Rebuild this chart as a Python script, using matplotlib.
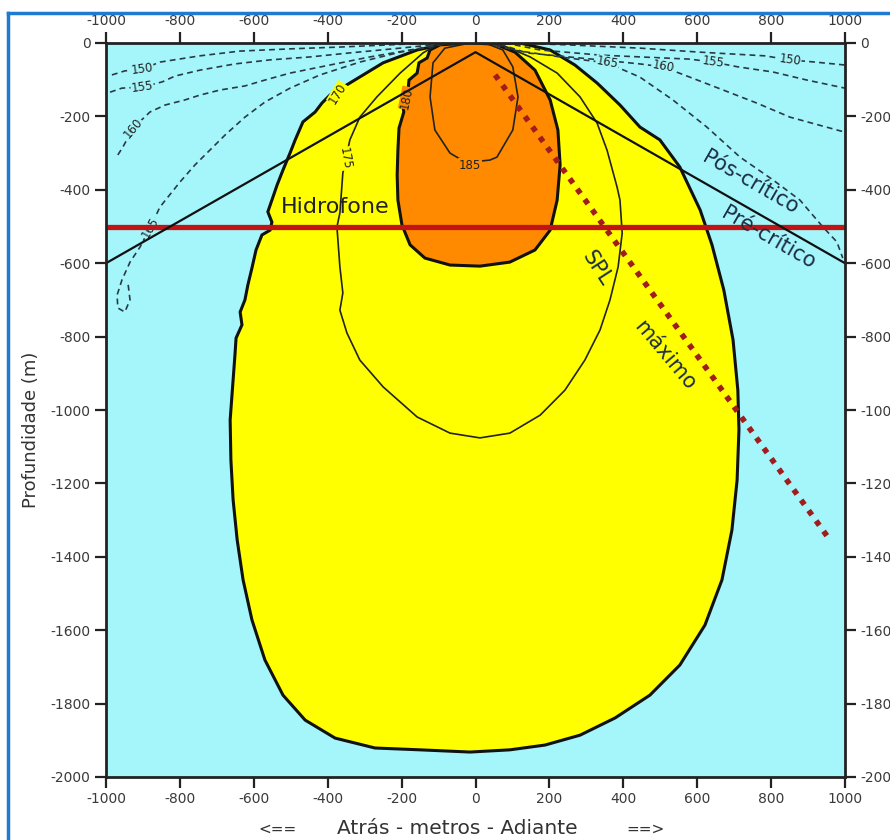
import matplotlib
matplotlib.use('Agg')
import matplotlib.pyplot as plt
from matplotlib.lines import Line2D

plt.rcParams['font.family'] = ['DejaVu Sans']
plt.rcParams['axes.unicode_minus'] = False

# contour 170 dB (yellow area), metres
yellow_x = [-69, -158, -250, -340, -394, -415, -434, -467, -488, -502, -521, -537, -551, -562,
            -551, -556, -578, -594, -605, -616, -624, -637, -632, -648, -651, -656, -664, -662,
            -656, -645, -629, -605, -570, -521, -461, -380, -272, -150, -15, 93, 188, 283, 378,
            472, 553, 621, 667, 694, 708, 713, 710, 697, 672, 640, 608, 553, 499, 445, 391, 329,
            269, 202, 120]
yellow_y = [0, -19, -54, -109, -142, -163, -188, -215, -264, -300, -346, -387, -428, -460,
            -488, -510, -523, -564, -613, -659, -700, -733, -768, -804, -850, -918, -1027, -1136,
            -1245, -1354, -1463, -1572, -1681, -1777, -1845, -1894, -1921, -1926, -1932, -1926,
            -1913, -1886, -1839, -1777, -1695, -1586, -1463, -1327, -1191, -1054, -946, -809,
            -673, -550, -455, -338, -264, -229, -169, -109, -60, -19, 0]

# contour 180 dB (orange area)
orange_x = [-15, -96, -123, -131, -153, -158, -180, -183, -199, -194, -207, -210, -212, -210,
            -199, -177, -137, -69, 12, 93, 161, 202, 221, 229, 223, 202, 161, 107, 53]
orange_y = [0, -5, -19, -41, -54, -82, -101, -134, -155, -188, -232, -292, -360, -428,
            -496, -550, -586, -605, -608, -597, -564, -510, -428, -332, -237, -155, -74, -25, -3]

# contour 185 dB
c185_x = [-15, -83, -115, -123, -110, -69, -37, 0, 39, 58, 101, 115, 101, 74, 26]
c185_y = [0, -14, -54, -147, -237, -300, -319, -323, -319, -311, -237, -147, -65, -19, 0]

# contour 175 dB
c175_x = [-96, -142, -204, -267, -313, -340, -359, -367, -375, -367, -359, -367, -348, -313,
          -250, -158, -69, 12, 93, 175, 242, 296, 337, 364, 386, 397, 391, 383, 356, 329, 283,
          221, 148, 85, 39]
c175_y = [0, -27, -82, -147, -202, -264, -354, -463, -501, -610, -681, -728, -790, -864,
          -937, -1019, -1063, -1076, -1063, -1014, -946, -864, -782, -700, -610, -518, -428,
          -392, -292, -218, -147, -82, -38, -11, 0]

# dashed contours in the low level zone (left and right of the source)
l150_x = [-984, -949, -902, -854, -746, -637, -502, -367, -231, -123]
l150_y = [-87, -76, -71, -52, -35, -22, -16, -11, -5, 0]
l155_x = [-989, -957, -902, -848, -813, -746, -651, -556, -448, -340, -204, -96]
l155_y = [-134, -123, -120, -106, -90, -74, -57, -46, -38, -27, -14, -3]
l160_x = [-968, -954, -927, -881, -840, -786, -746, -691, -624, -570, -502, -394, -286, -177, -83]
l160_y = [-305, -283, -232, -188, -169, -155, -142, -128, -117, -101, -82, -60, -38, -19, -3]
l165_x = [-940, -935, -949, -968, -970, -957, -935, -908, -881, -854, -800, -759, -719, -678,
          -624, -570, -502, -421, -313, -204, -96]
l165_y = [-659, -700, -733, -722, -687, -646, -597, -556, -504, -447, -379, -332, -292, -251,
          -202, -161, -123, -87, -52, -25, -5]
r150_x = [93, 248, 445, 608, 783, 851, 919, 1000]
r150_y = [0, -5, -14, -25, -35, -46, -52, -60]
r155_x = [80, 175, 337, 580, 643, 710, 805, 897, 1000]
r155_y = [0, -19, -33, -44, -52, -65, -79, -101, -123]
r160_x = [66, 139, 337, 445, 507, 580, 670, 762, 851, 1000]
r160_y = [-3, -27, -46, -57, -65, -93, -128, -164, -202, -243]
r165_x = [53, 101, 229, 291, 356, 445, 534, 626, 716, 805, 878, 940, 978, 994]
r165_y = [-5, -19, -38, -46, -54, -93, -155, -229, -311, -373, -428, -501, -542, -586]

# rays, hydrophone depth and max SPL direction
ray_x = [-1000, 0, 1000]
ray_y = [-600, -25, -600]
hydro_depth = -500
spl_x = [53, 959]
spl_y = [-87, -1354]

x_ticks = list(range(-1000, 1001, 200))
y_ticks = list(range(-2000, 1, 200))

cyan = '#a4f6fa'
yellow = '#ffff00'
orange = '#ff8a00'

fig = plt.figure(figsize=(8.9, 8.4), dpi=100)
ax = fig.add_axes([106 / 890, 63 / 840, 739 / 890, 734 / 840])
ax.set_facecolor(cyan)

ax.fill(yellow_x, yellow_y, facecolor=yellow, edgecolor='#111111', lw=2.2, zorder=1)
ax.fill(orange_x, orange_y, facecolor=orange, edgecolor='#111111', lw=2.2, zorder=2)
ax.plot(c175_x, c175_y, color='#222222', lw=1.2, zorder=3)
ax.plot(c185_x, c185_y, color='#222222', lw=1.2, zorder=3)

for xs, ys in [(l150_x, l150_y), (l155_x, l155_y), (l160_x, l160_y), (l165_x, l165_y),
               (r150_x, r150_y), (r155_x, r155_y), (r160_x, r160_y), (r165_x, r165_y)]:
    ax.plot(xs, ys, color='#2a3a44', lw=1.2, linestyle=(0, (3.5, 2.5)), zorder=3)

lab = dict(fontsize=8.5, color='#222222', ha='center', va='center', zorder=4)
for x, y, s, r in [(-902, -71, '150', 8), (-902, -120, '155', 8), (-927, -232, '160', 50),
                   (-881, -504, '165', 60), (851, -46, '150', -8), (643, -52, '155', -8),
                   (507, -65, '160', -10), (356, -54, '165', -10)]:
    ax.text(x, y, s, rotation=r, bbox=dict(facecolor=cyan, edgecolor='none', pad=0.3), **lab)
ax.text(-15, -333, '185', bbox=dict(facecolor=orange, edgecolor='none', pad=0.3), **lab)
ax.text(-353, -315, '175', rotation=-80, bbox=dict(facecolor=yellow, edgecolor='none', pad=0.3), **lab)
ax.text(-372, -138, '170', rotation=58, bbox=dict(facecolor=yellow, edgecolor='none', pad=0.3), **lab)
ax.text(-186, -150, '180', rotation=78, bbox=dict(facecolor=orange, edgecolor='none', pad=0.2), **lab)

ax.axhline(hydro_depth, color='#c21414', lw=3.8, zorder=5)
ax.plot(ray_x, ray_y, color='#111111', lw=1.6, zorder=6)
ax.plot(spl_x, spl_y, color='#a11c1c', lw=4, linestyle=(0, (1, 1.3)),
        dash_capstyle='butt', zorder=7)

ax.text(-380, -447, 'Hidrofone', fontsize=16, color='#222222', ha='center', va='center', zorder=8)
txt = dict(fontsize=15, color='#1c2d44', ha='center', va='center', zorder=8)
ax.text(743, -381, 'Pós-crítico', rotation=-30, **txt)
ax.text(792, -531, 'Pré-crítico', rotation=-30, **txt)
ax.text(329, -613, 'SPL', rotation=-57, **txt)
ax.text(512, -850, 'máximo', rotation=-50, **txt)

ax.set_xlim(-1000, 1000)
ax.set_ylim(-2000, 0)
ax.set_xticks(x_ticks)
ax.set_yticks(y_ticks)
ax.tick_params(top=True, right=True, labeltop=True, labelright=True, direction='out',
               length=8, width=1.6, labelsize=10, color='#222222', labelcolor='#3a3a3a', pad=3)
for s in ax.spines.values():
    s.set_linewidth(2)
    s.set_color('#222222')
    s.set_zorder(10)

fig.text(31 / 890, 1 - 430 / 840, 'Profundidade (m)', rotation=90, fontsize=13,
         color='#333333', ha='center', va='center')
fig.text(278 / 890, 1 - 829 / 840, '<==', fontsize=11, color='#333333', ha='center', va='center')
fig.text(457 / 890, 1 - 828 / 840, 'Atrás - metros - Adiante', fontsize=14.5,
         color='#333333', ha='center', va='center')
fig.text(645 / 890, 1 - 829 / 840, '==>', fontsize=11, color='#333333', ha='center', va='center')

# blue frame around the picture (cut at right and bottom)
fig.add_artist(Line2D([8 / 890, 8 / 890], [0, 1 - 13 / 840], transform=fig.transFigure,
                      color='#1e7bd0', lw=2.5))
fig.add_artist(Line2D([8 / 890, 1], [1 - 13 / 840, 1 - 13 / 840], transform=fig.transFigure,
                      color='#1e7bd0', lw=2.5))

fig.savefig('out.png', dpi=100)
